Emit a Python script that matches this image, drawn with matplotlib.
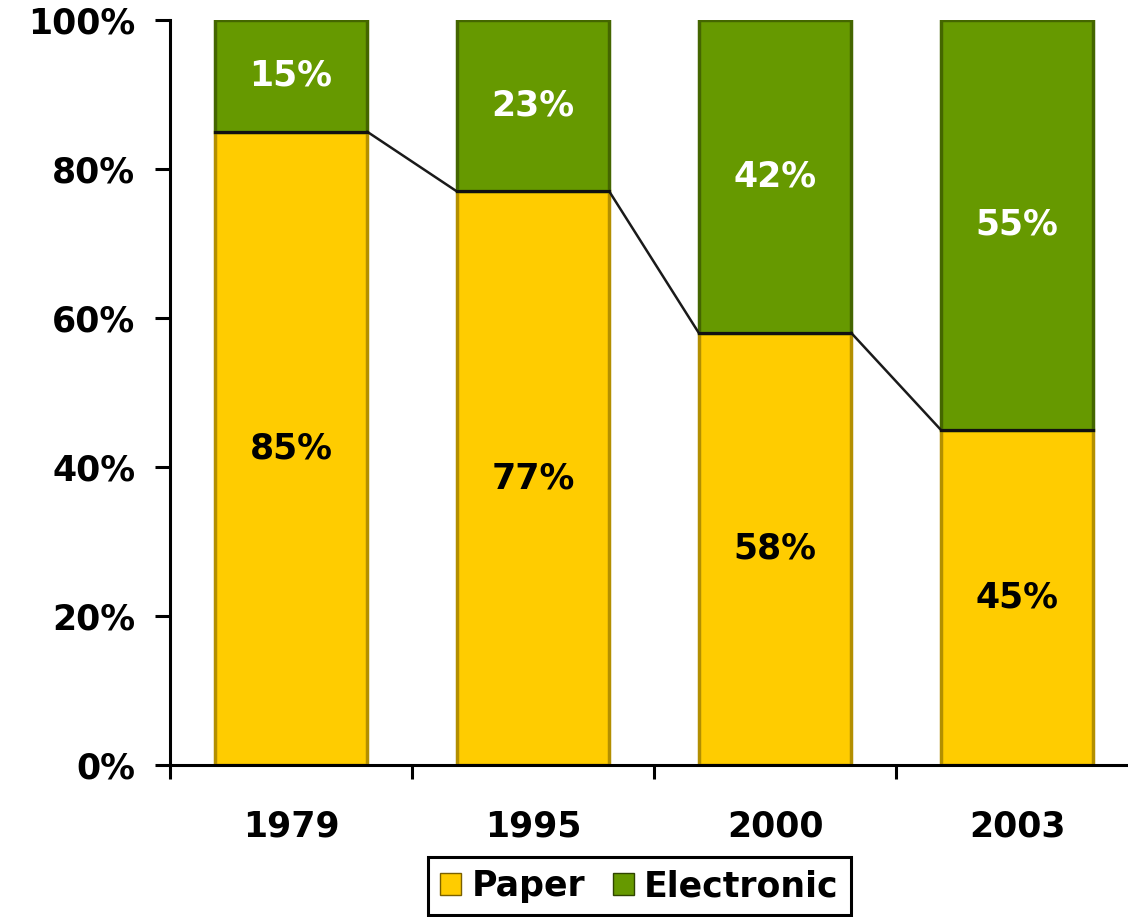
import matplotlib.pyplot as plt
from matplotlib.patches import Patch

years = ["1979", "1995", "2000", "2003"]
paper = [85, 77, 58, 45]
electronic = [15, 23, 42, 55]

paper_color = "#FFCC00"
paper_edge = "#B38F00"
elec_color = "#669900"
elec_edge = "#446600"

fig = plt.figure(figsize=(11.28, 9.17), dpi=100)
ax = fig.add_axes([170 / 1128, 1 - 765 / 917, 968 / 1128, 745 / 917])

x = list(range(len(years)))
w = 0.63
ax.bar(x, paper, w, color=paper_color, edgecolor=paper_edge, linewidth=2.5, zorder=2)
ax.bar(x, electronic, w, bottom=paper, color=elec_color, edgecolor=elec_edge,
       linewidth=2.5, zorder=2)

# series lines between the paper segments
for i in range(len(years) - 1):
    ax.plot([i + w / 2, i + 1 - w / 2], [paper[i], paper[i + 1]],
            color="#1a1a1a", lw=1.8, zorder=3)
for i in range(len(years)):
    ax.plot([i - w / 2, i + w / 2], [paper[i], paper[i]], color="#111111",
            lw=2.2, zorder=3)

fs = 25
for i in range(len(years)):
    ax.text(i, paper[i] / 2, f"{paper[i]}%", ha="center", va="center",
            fontsize=fs, fontweight="bold", color="black", zorder=4)
    ax.text(i, paper[i] + electronic[i] / 2, f"{electronic[i]}%", ha="center",
            va="center", fontsize=fs, fontweight="bold", color="white", zorder=4)

ax.set_xlim(-0.5, 3.5)
ax.set_ylim(0, 100)
ax.set_yticks(range(0, 101, 20))
ax.set_yticklabels([f"{v}%" for v in range(0, 101, 20)])
ax.set_xticks([i + 0.5 for i in range(-1, 4)])
ax.set_xticklabels([])
ax.set_xticks(x, minor=True)
ax.set_xticklabels(years, minor=True)
ax.tick_params(axis="x", which="minor", length=0, pad=32, labelsize=fs)
ax.tick_params(axis="x", which="major", length=10, width=2.2, direction="out")
ax.tick_params(axis="y", length=11, width=2.2, pad=14, labelsize=fs)
for lab in ax.get_xticklabels(minor=True) + ax.get_yticklabels():
    lab.set_fontweight("bold")

for s in ["top", "right"]:
    ax.spines[s].set_visible(False)
for s in ["left", "bottom"]:
    ax.spines[s].set_linewidth(2.2)
ax.spines["bottom"].set_zorder(5)

handles = [Patch(facecolor=paper_color, edgecolor="#7a6000", label="Paper"),
           Patch(facecolor=elec_color, edgecolor="#2f4400", label="Electronic")]
leg = fig.legend(handles=handles, loc="upper left",
                 bbox_to_anchor=(428 / 1128, 1 - 857 / 917), ncol=2,
                 borderaxespad=0, fancybox=False, edgecolor="black",
                 framealpha=1, prop={"size": fs, "weight": "bold"},
                 handlelength=0.6, handleheight=0.6, handletextpad=0.3,
                 columnspacing=0.8, borderpad=0.35)
leg.get_frame().set_linewidth(2.2)

fig.savefig("out.png", dpi=100)
